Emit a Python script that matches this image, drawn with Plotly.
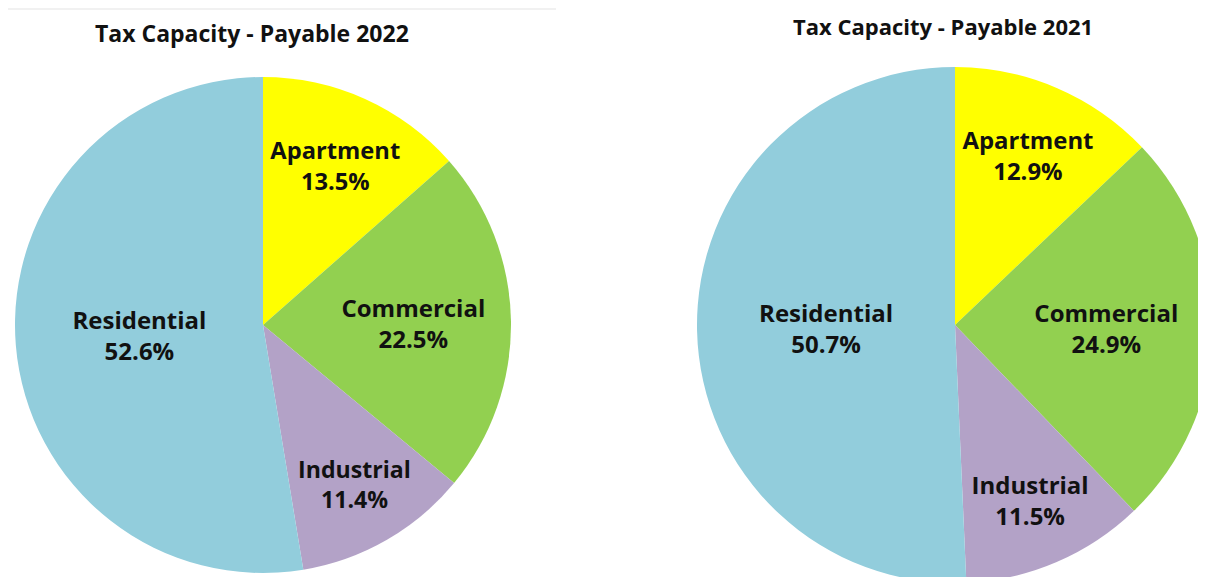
import plotly.graph_objects as go

# Slices in clockwise order from 12 o'clock
categories = ['Apartment', 'Commercial', 'Industrial', 'Residential']
share_2022 = [13.5, 22.5, 11.4, 52.6]
share_2021 = [12.9, 24.9, 11.5, 50.7]
titles = ['Tax Capacity - Payable 2022', 'Tax Capacity - Payable 2021']

COLORS = ['#FFFF00', '#92D050', '#B3A2C7', '#92CDDC']
FONT = 'Open Sans'

W, H = 1206, 577
OFF = 8  # page body margin shifts the plot by this much


def px_x(x):
    return (x - OFF) / W


def px_y(y):
    return 1 - (y - OFF) / H


def pie_domain(cx, cy, r):
    # cx, cy, r in screen pixels from top-left
    return dict(x=[px_x(cx - r), px_x(cx + r)],
                y=[px_y(cy + r), px_y(cy - r)])


fig = go.Figure()

for vals, dom in [(share_2022, pie_domain(263, 325, 248)),
                  (share_2021, pie_domain(955, 325, 258))]:
    fig.add_trace(go.Pie(
        labels=categories,
        values=vals,
        sort=False,
        direction='clockwise',
        rotation=0,
        marker=dict(colors=COLORS, line=dict(width=0)),
        texttemplate='%{label}<br>%{value:.1f}%',
        textposition='inside',
        insidetextorientation='horizontal',
        textfont=dict(family=FONT, size=24, color='#111111', weight='bold'),
        hoverinfo='label+percent',
        domain=dom,
        showlegend=False,
    ))

fig.add_annotation(x=px_x(252), y=px_y(33), xref='paper', yref='paper',
                   xanchor='center', yanchor='middle',
                   text=titles[0], showarrow=False,
                   font=dict(family=FONT, size=23, color='#111111', weight='bold'))
fig.add_annotation(x=px_x(943), y=px_y(26), xref='paper', yref='paper',
                   xanchor='center', yanchor='middle',
                   text=titles[1], showarrow=False,
                   font=dict(family=FONT, size=22, color='#111111', weight='bold'))

# thin grey rule across the top of the left panel
fig.add_shape(type='line', xref='paper', yref='paper',
              x0=px_x(8), x1=px_x(556), y0=px_y(9), y1=px_y(9),
              line=dict(color='#E3E3E3', width=1))

fig.update_layout(
    width=W, height=H,
    margin=dict(l=0, r=0, t=0, b=0),
    paper_bgcolor='white',
    plot_bgcolor='white',
)

fig.write_html("out.html")
